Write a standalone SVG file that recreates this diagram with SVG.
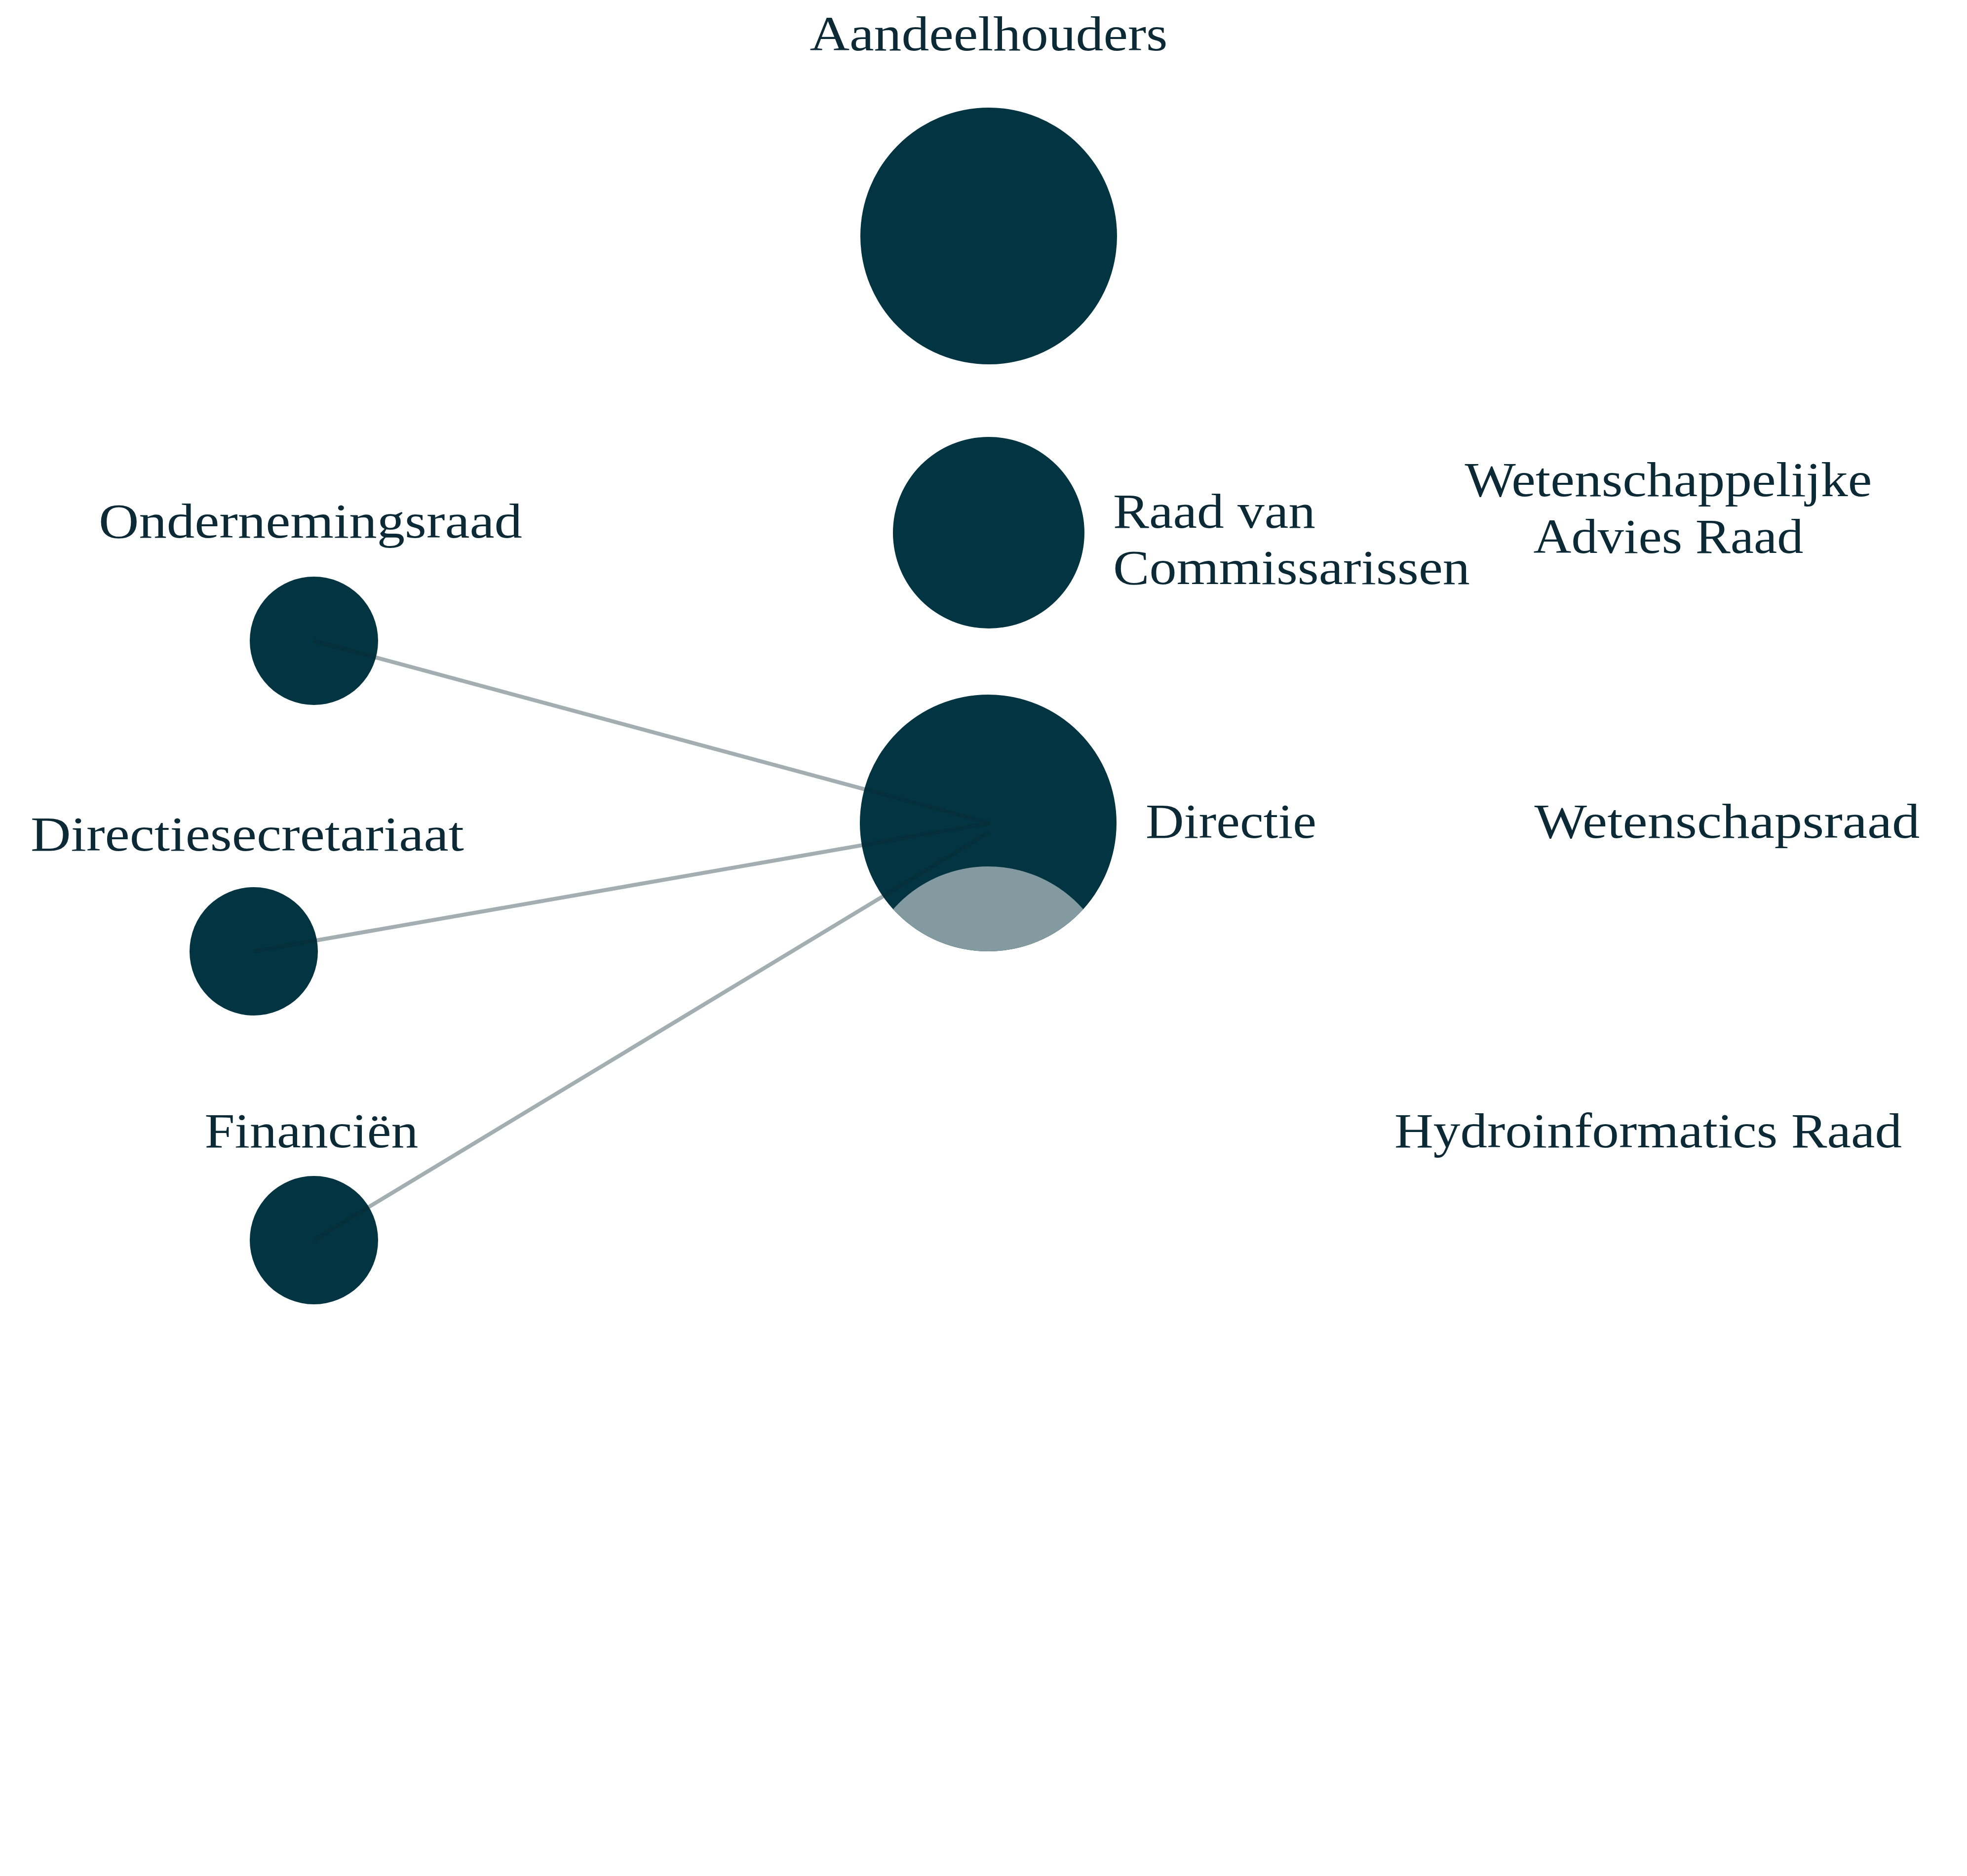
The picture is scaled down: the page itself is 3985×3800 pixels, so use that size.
<svg xmlns="http://www.w3.org/2000/svg" width="3985" height="3800" viewBox="0 0 3985 3800">
<style>
.n{fill:#033442}
.t{font-family:"Liberation Serif","DejaVu Serif",serif;font-size:100px;fill:#0c2a35}
.m{text-anchor:middle}
.c{stroke:#0a2a33;stroke-opacity:0.38;stroke-width:8;fill:none}
</style>
<defs><clipPath id="dc"><circle cx="2002" cy="1667" r="260"/></clipPath></defs>
<rect width="3985" height="3800" fill="#fff"/>
<g id="aandeelhouders"><circle class="n" cx="2003" cy="478" r="260"/><text class="t m" x="2003" y="102" textLength="725" lengthAdjust="spacingAndGlyphs">Aandeelhouders</text></g>
<g id="rvc"><circle class="n" cx="2003" cy="1079" r="194"/><text class="t" x="2255" y="1069" textLength="410" lengthAdjust="spacingAndGlyphs">Raad van</text><text class="t" x="2255" y="1183" textLength="723" lengthAdjust="spacingAndGlyphs">Commissarissen</text></g>
<g id="war"><text class="t m" x="3380" y="1005" textLength="825" lengthAdjust="spacingAndGlyphs">Wetenschappelijke</text><text class="t m" x="3380" y="1120" textLength="547" lengthAdjust="spacingAndGlyphs">Advies Raad</text></g>
<g id="directie"><circle class="n" cx="2002" cy="1667" r="260"/><circle cx="2002" cy="2012" r="257" fill="#829aa0" clip-path="url(#dc)"/><text class="t" x="2321" y="1697" textLength="346" lengthAdjust="spacingAndGlyphs">Directie</text></g>
<g id="wetenschapsraad"><text class="t m" x="3499" y="1697" textLength="781" lengthAdjust="spacingAndGlyphs">Wetenschapsraad</text></g>
<g id="hydro"><text class="t m" x="3339" y="2324" textLength="1028" lengthAdjust="spacingAndGlyphs">Hydroinformatics Raad</text></g>
<g id="or"><circle class="n" cx="636" cy="1298" r="130"/><text class="t m" x="629" y="1089" textLength="858" lengthAdjust="spacingAndGlyphs">Ondernemingsraad</text></g>
<g id="ds"><circle class="n" cx="514" cy="1927" r="130"/><text class="t m" x="501" y="1723" textLength="878" lengthAdjust="spacingAndGlyphs">Directiesecretariaat</text></g>
<g id="fin"><circle class="n" cx="636" cy="2512" r="130"/><text class="t m" x="631" y="2324" textLength="433" lengthAdjust="spacingAndGlyphs">Financiën</text></g>
<g id="connectors">
<line class="c" x1="636" y1="1298" x2="2005" y2="1667"/>
<line class="c" x1="514" y1="1927" x2="2005" y2="1667"/>
<line class="c" x1="636" y1="2512" x2="2005" y2="1685"/>
</g>
</svg>
